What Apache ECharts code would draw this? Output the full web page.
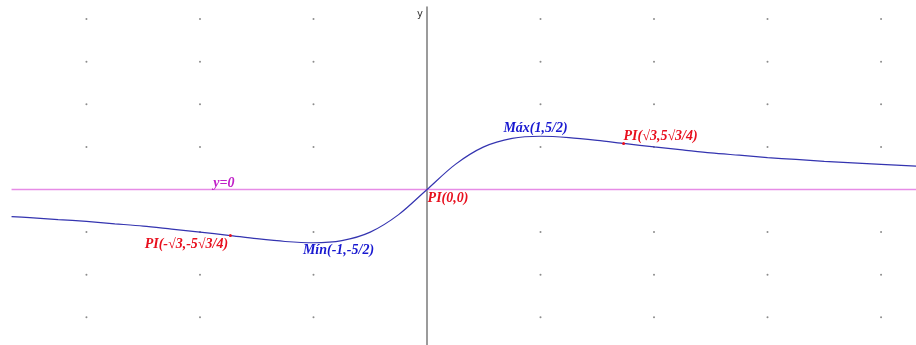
<!DOCTYPE html>
<html>
<head>
<meta charset="utf-8">
<script src="https://cdn.jsdelivr.net/npm/echarts@6/dist/echarts.min.js"></script>
<style>
  html, body { margin: 0; padding: 0; background: #fff; }
  #chart { width: 916px; height: 345px; }
</style>
</head>
<body>
<div id="chart"></div>
<script>
// curve points
const curveX = [-3.66, -3.5, -3.25, -3, -2.75, -2.5, -2.25, -2, -1.75, -1.5, -1.25, -1, -0.75, -0.5, -0.25, 0,
  0.25, 0.5, 0.75, 1, 1.25, 1.5, 1.75, 2, 2.25, 2.5, 2.75, 3, 3.25, 3.5, 3.75, 4, 4.31];
const curveY = [-1.27, -1.32, -1.41, -1.5, -1.61, -1.72, -1.86, -2.0, -2.15, -2.31, -2.44, -2.5, -2.4, -2.0, -1.18, 0,
  1.18, 2.0, 2.4, 2.5, 2.44, 2.31, 2.15, 2.0, 1.86, 1.72, 1.61, 1.5, 1.41, 1.32, 1.25, 1.18, 1.1];

// y = 0 line ends
const zeroX = [-3.66, 4.31];
const zeroY = [0, 0];

// labelled points
const markNames = ['Máx(1,5/2)', 'PI(√3,5√3/4)', 'PI(0,0)', 'PI(-√3,-5√3/4)', 'Mín(-1,-5/2)', 'y=0'];
const markX = [1, 1.732, 0, -1.732, -1, -1.79];
const markY = [2.5, 2.165, 0, -2.165, -2.5, 0];

// background dot grid
const dotX = [-3, -2, -1, 1, 2, 3, 4];
const dotY = [-6, -4, -2, 2, 4, 6, 8];

const BLUE = '#1818d0';
const RED = '#e8101e';
const PINK = '#c020c8';
const labelStyle = [
  { color: BLUE, offset: [-5, -8], dot: false },
  { color: RED, offset: [37, -7], dot: true },
  { color: RED, offset: [21, 9], dot: false },
  { color: RED, offset: [-44, 9], dot: true },
  { color: BLUE, offset: [25, 8], dot: false },
  { color: PINK, offset: [0, -6], dot: false }
];

const chart = echarts.init(document.getElementById('chart'));

const dots = [];
dotX.forEach(x => dotY.forEach(y => dots.push([x, y])));

chart.setOption({
  animation: false,
  grid: { left: 12, right: 0, top: 7, bottom: 0 },
  xAxis: {
    type: 'value',
    min: -3.656,
    max: 4.308,
    axisLine: { show: false },
    axisTick: { show: false },
    axisLabel: { show: false },
    splitLine: { show: false }
  },
  yAxis: {
    type: 'value',
    min: -7.3,
    max: 8.568,
    name: 'y',
    nameLocation: 'end',
    nameGap: 0,
    nameTextStyle: {
      fontFamily: 'DejaVu Sans',
      fontSize: 10,
      color: '#333',
      align: 'right',
      verticalAlign: 'top',
      padding: [2, 4, 0, 0]
    },
    axisLine: { show: true, onZero: true, lineStyle: { color: '#7a7a7a', width: 1.5 } },
    axisTick: { show: false },
    axisLabel: { show: false },
    splitLine: { show: false }
  },
  series: [
    {
      type: 'scatter',
      data: dots,
      symbolSize: 2,
      itemStyle: { color: '#8c8c8c', opacity: 1 },
      silent: true
    },
    {
      type: 'line',
      data: zeroX.map((x, i) => [x, zeroY[i]]),
      showSymbol: false,
      lineStyle: { color: '#e68ce6', width: 1.5 },
      silent: true
    },
    {
      type: 'line',
      data: curveX.map((x, i) => [x, curveY[i]]),
      smooth: 0.3,
      showSymbol: false,
      lineStyle: { color: '#3434b0', width: 1.2 },
      silent: true
    },
    {
      type: 'scatter',
      data: markNames.map((n, i) => ({
        value: [markX[i], markY[i]],
        name: n,
        symbolSize: labelStyle[i].dot ? 3 : 0,
        itemStyle: { color: labelStyle[i].color, opacity: 1 },
        label: {
          show: true,
          position: 'inside',
          formatter: n,
          color: labelStyle[i].color,
          offset: labelStyle[i].offset,
          align: 'center',
          verticalAlign: 'middle'
        }
      })),
      itemStyle: { opacity: 1 },
      label: {
        fontFamily: 'Liberation Serif',
        fontStyle: 'italic',
        fontWeight: 'bold',
        fontSize: 14,
        opacity: 1
      },
      silent: true,
      z: 5
    }
  ]
});
</script>
</body>
</html>
